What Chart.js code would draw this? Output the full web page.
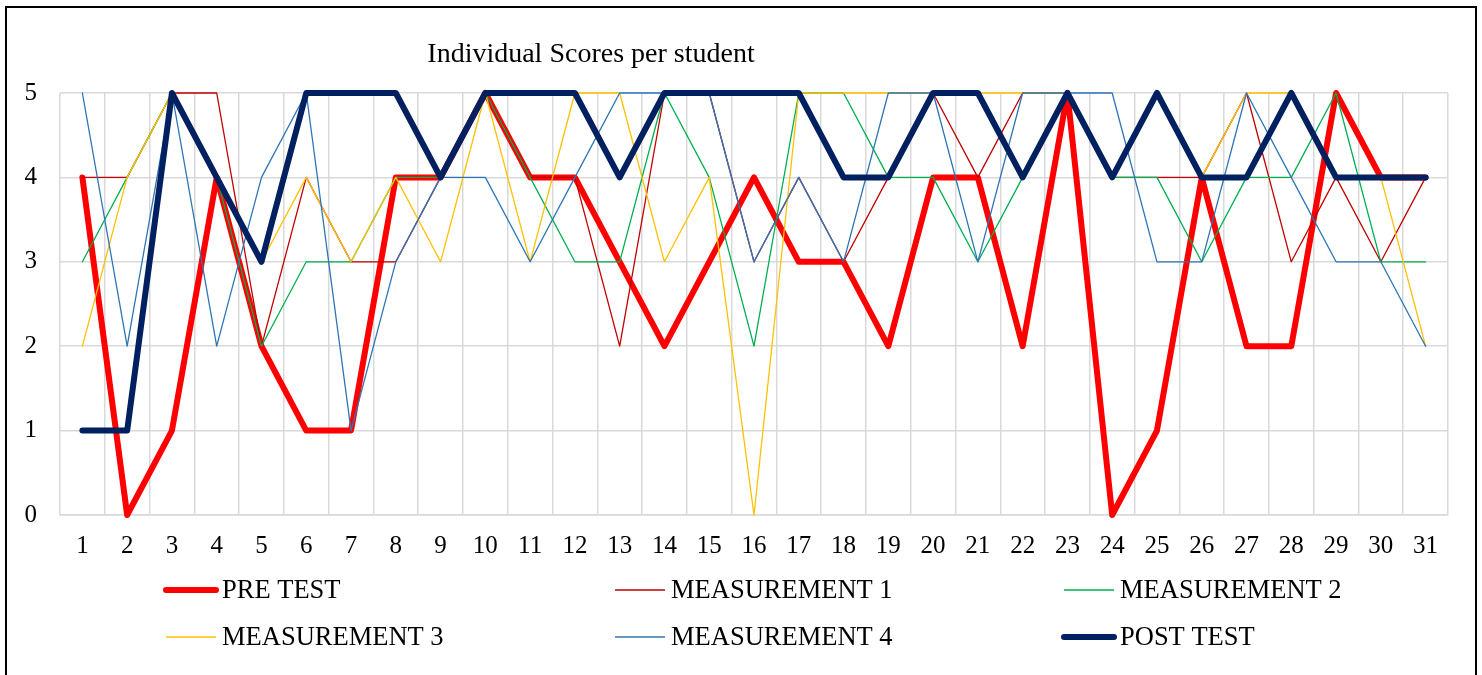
<!DOCTYPE html>
<html>
<head>
<meta charset="utf-8">
<script src="https://cdn.jsdelivr.net/npm/chart.js@4/dist/chart.umd.min.js"></script>
<style>
	body { margin: 0; background: #fff; }
	#wrap { position: relative; width: 1482px; height: 675px; overflow: hidden; }
	#frame { position: absolute; left: 5px; top: 6px; width: 1468px; height: 700px; border: 2px solid #000; pointer-events: none; }
</style>
</head>
<body>
<div id="wrap">
	<canvas id="chart" width="1482" height="675"></canvas>
	<div id="frame"></div>
</div>
<script>
const students = ["1","2","3","4","5","6","7","8","9","10","11","12","13","14","15","16",
	"17","18","19","20","21","22","23","24","25","26","27","28","29","30","31"]
const preTest = [4,0,1,4,2,1,1,4,4,5,4,4,3,2,3,4,3,3,2,4,4,2,5,0,1,4,2,2,5,4,4]
const measurement1 = [4,4,5,5,2,4,3,3,4,5,4,4,2,5,5,3,4,3,4,5,4,5,5,4,4,4,5,3,4,3,4]
const measurement2 = [3,4,5,4,2,3,3,4,4,5,4,3,3,5,4,2,5,5,4,4,3,4,5,4,4,3,4,4,5,3,3]
const measurement3 = [2,4,5,4,3,4,3,4,3,5,3,5,5,3,4,0,5,5,5,5,5,5,5,4,5,4,5,5,4,4,2]
const measurement4 = [5,2,5,2,4,5,1,3,4,4,3,4,5,5,5,3,4,3,5,5,3,5,5,5,3,3,5,4,3,3,2]
const postTest = [1,1,5,4,3,5,5,5,4,5,5,5,4,5,5,5,5,4,4,5,5,4,5,4,5,4,4,5,4,4,4]

const serif = "'Liberation Serif', 'Times New Roman', serif"

function series(label, data, color, width, order) {
	return {
		label: label,
		data: data,
		borderColor: color,
		backgroundColor: color,
		borderWidth: width,
		pointRadius: 0,
		pointHoverRadius: 0,
		tension: 0,
		borderJoinStyle: 'round',
		borderCapStyle: 'round',
		clip: false,
		order: order,
	}
}

// title sits left of centre in the original
const titlePlugin = {
	id: 'titleText',
	afterDraw(chart) {
		const ctx = chart.ctx
		ctx.save()
		ctx.fillStyle = '#000'
		ctx.font = "28px " + serif
		ctx.textAlign = 'center'
		ctx.textBaseline = 'middle'
		ctx.fillText("Individual Scores per student", 591, 55)
		ctx.restore()
	}
}

// three-column legend under the axis
const legendPlugin = {
	id: 'gridLegend',
	afterDraw(chart) {
		const ctx = chart.ctx
		ctx.save()
		ctx.font = "26.5px " + serif
		ctx.textBaseline = 'middle'
		ctx.fillStyle = '#000'
		chart.data.datasets.forEach(function (ds, i) {
			const col = i % 3
			const row = Math.floor(i / 3)
			const x = 166 + col * 449
			const y = 590 + row * 47
			ctx.strokeStyle = ds.borderColor
			ctx.lineWidth = ds.borderWidth
			ctx.lineCap = ds.borderWidth > 2 ? 'round' : 'butt'
			ctx.beginPath()
			ctx.moveTo(x, y)
			ctx.lineTo(x + 50, y)
			ctx.stroke()
			ctx.fillText(ds.label, x + 56, y + 1)
		})
		ctx.restore()
	}
}

let chart = new Chart(document.getElementById("chart"), {
	type: 'line',
	data: {
		labels: students,
		datasets: [
			series('PRE TEST', preTest, '#FF0000', 6, 5),
			series('MEASUREMENT 1', measurement1, '#C00000', 1.3, 4),
			series('MEASUREMENT 2', measurement2, '#00B050', 1.3, 3),
			series('MEASUREMENT 3', measurement3, '#FFC000', 1.3, 2),
			series('MEASUREMENT 4', measurement4, '#2E75B6', 1.3, 1),
			series('POST TEST', postTest, '#002060', 6, 0),
		],
	},
	options: {
		responsive: false,
		animation: false,
		layout: {
			padding: { left: 0, right: 34, top: 93, bottom: 110 },
		},
		plugins: {
			legend: { display: false },
			title: { display: false },
			tooltip: { enabled: false },
		},
		scales: {
			x: {
				offset: true,
				grid: { offset: true, color: '#d9d9d9', lineWidth: 1.5, drawTicks: false },
				border: { color: '#d9d9d9', width: 1.5 },
				ticks: {
					color: '#000',
					font: { family: serif, size: 25 },
					padding: 16,
					maxRotation: 0,
					autoSkip: false,
				},
				afterFit(scale) { scale.height = 50 },
			},
			y: {
				min: 0,
				max: 5,
				grid: { color: '#d9d9d9', lineWidth: 1.5, drawTicks: false },
				border: { display: false },
				ticks: {
					stepSize: 1,
					color: '#000',
					font: { family: serif, size: 25 },
					padding: 23,
				},
				afterFit(scale) { scale.width = 60 },
			},
		},
	},
	plugins: [titlePlugin, legendPlugin],
});
</script>
</body>
</html>
